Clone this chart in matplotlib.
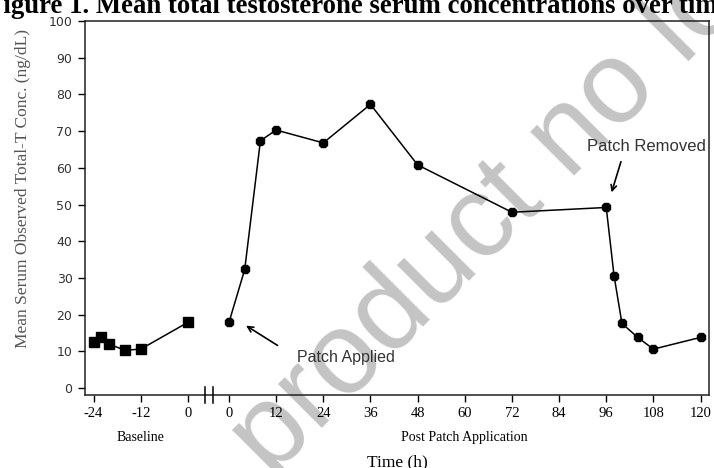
import matplotlib
matplotlib.use("Agg")
import matplotlib.pyplot as plt
import matplotlib.transforms as mtransforms

# baseline samples (h relative to patch application) and concentrations
base_time = [-24, -22, -20, -16, -12, 0]
base_conc = [12.6, 14.0, 11.9, 10.3, 10.6, 17.9]

# samples after the patch was applied
post_time = [0, 4, 8, 12, 24, 36, 48, 72, 96, 98, 100, 104, 108, 120]
post_conc = [17.9, 32.3, 67.4, 70.3, 66.8, 77.3, 60.8, 47.9, 49.2, 30.5, 17.6, 13.8, 10.6, 13.8]

base_ticks = [-24, -12, 0]
post_ticks = [0, 12, 24, 36, 48, 60, 72, 84, 96, 108, 120]

# horizontal gap (in hours) between the two segments of the broken axis
GAP = 10.45

serif = "Liberation Serif"
sans = "Liberation Sans"

fig = plt.figure(figsize=(7.14, 4.68), dpi=100)
ax = fig.add_axes([0.119, 0.156, 0.874, 0.799])
ax.patch.set_alpha(0)

post_pos = [t + GAP for t in post_time]

ax.plot(base_time, base_conc, color="black", lw=1.1, marker="s", ms=7.5,
        mfc="black", mec="black", zorder=3)
ax.plot(post_pos, post_conc, color="black", lw=1.1, marker="8", ms=7,
        mfc="black", mec="black", zorder=3)

ax.set_xlim(-26.2, 132.6)
ax.set_ylim(-1.9, 100)

ax.set_yticks(range(0, 101, 10))
ax.tick_params(axis="y", direction="out", length=5, width=1, labelsize=9,
               labelcolor="#333333", pad=4)
for lab in ax.get_yticklabels():
    lab.set_family("DejaVu Sans")

xt = list(base_ticks) + [t + GAP for t in post_ticks]
xl = [str(t) for t in base_ticks] + [str(t) for t in post_ticks]
ax.set_xticks(xt)
ax.set_xticklabels(xl, family=serif, fontsize=10.5)
ax.tick_params(axis="x", direction="out", length=5, width=1, pad=4)

for sp in ax.spines.values():
    sp.set_linewidth(1.1)
    sp.set_color("#222222")

# break marks on the time axis
trans = mtransforms.blended_transform_factory(ax.transData, ax.transAxes)
for xb in (4.3, 6.4):
    ax.plot([xb, xb], [-0.022, 0.022], color="black", lw=1.1,
            transform=trans, clip_on=False, zorder=4)

ax.set_ylabel("Mean Serum Observed Total-T Conc. (ng/dL)", family=serif,
              fontsize=12.5, color="#555555")
ax.yaxis.set_label_coords(-0.087, 0.551)
ax.set_xlabel("Time (h)", family=serif, fontsize=12.5)
ax.xaxis.set_label_coords(0.5, -0.158)

ax.text(-12, -0.115, "Baseline", transform=trans, family=serif, fontsize=10,
        ha="center", va="center")
ax.text(60 + GAP, -0.115, "Post Patch Application", transform=trans,
        family=serif, fontsize=10, ha="center", va="center")

# patch events
ax.annotate("", xy=(14.2, 17.4), xytext=(23.4, 11.2),
            arrowprops=dict(arrowstyle="->", lw=1.2, color="black"))
ax.text(27.7, 8.4, "Patch Applied", family=sans, fontsize=11.5,
        color="#333333", ha="left", va="center")
ax.annotate("", xy=(107.6, 52.6), xytext=(110.4, 62.4),
            arrowprops=dict(arrowstyle="->", lw=1.2, color="black"))
ax.text(101.5, 65.9, "Patch Removed", family=sans, fontsize=12,
        color="#333333", ha="left", va="center")

fig.text(-0.018, 0.972, "Figure 1. Mean total testosterone serum concentrations over time",
         family=serif, fontweight="bold", fontsize=19.3, ha="left", va="baseline")

fig.text(0.38, -0.023, "product no longer authorised", family=sans,
         fontsize=84, color="#c4c4c4", rotation=45, rotation_mode="anchor",
         ha="left", va="baseline", zorder=-1)

fig.savefig("out.png", dpi=100)
